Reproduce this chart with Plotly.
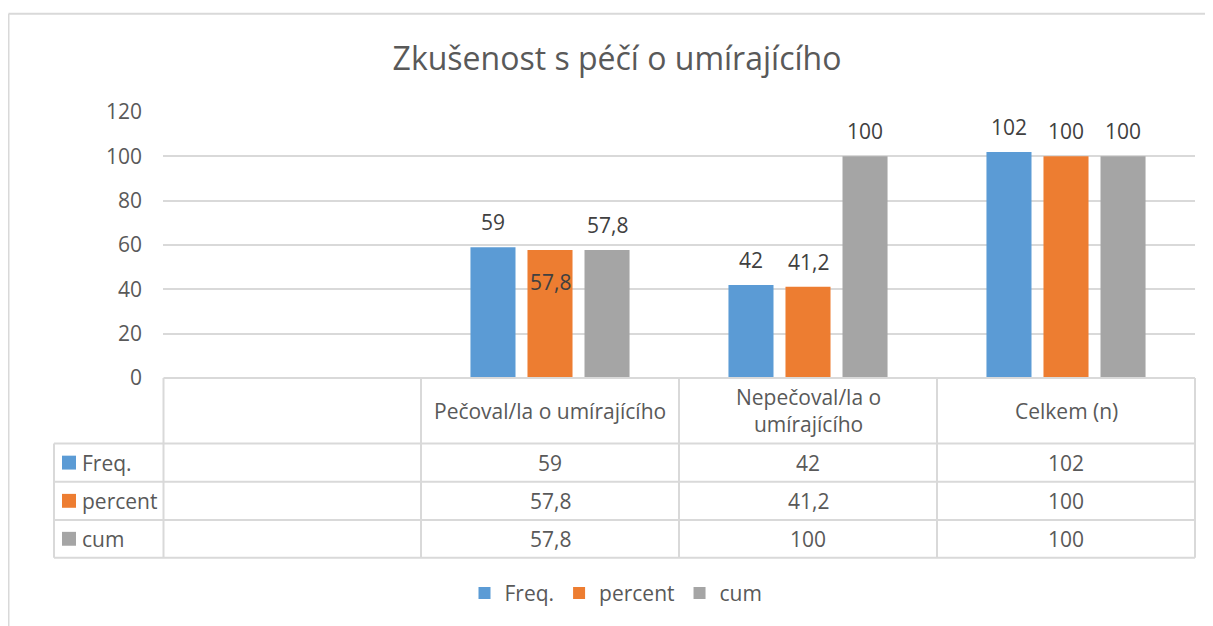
import plotly.graph_objects as go

# ---------------- data ----------------
title_text = "Zkušenost s péčí o umírajícího"
categories = ["", "Pečoval/la o umírajícího", "Nepečoval/la o<br>umírajícího", "Celkem (n)"]
series_names = ["Freq.", "percent", "cum"]
freq = [None, 59, 42, 102]
percent = [None, 57.8, 41.2, 100]
cum = [None, 57.8, 100, 100]
y_ticks = [0, 20, 40, 60, 80, 100, 120]

# ---------------- style ----------------
colors = ["#5B9BD5", "#ED7D31", "#A5A5A5"]
FONT = "'Open Sans', 'Noto Sans', sans-serif"
FS = 21
TXT = "#595959"
LBL = "#404040"
GRID = "#D9D9D9"
OFF = 8  # browser body margin
W, H = 1213 - OFF, 626 - OFF
PL, PR, PT, PB = 163, 1195, 112, 380  # plot area in page pixels
label_pos = [["", "out", "out", "out"],
             ["", "in", "out", "out"],
             ["", "out", "out", "out"]]
slot = 57  # pixel distance between bars of a group


def px_x(p):
    return (p - PL) / (PR - PL)


def px_y(p):
    return (PB - p) / (PB - PT)


def fmt(v):
    if v is None:
        return ""
    return ("%g" % v).replace(".", ",")


series_values = [freq, percent, cum]
xs = list(range(len(categories)))

fig = go.Figure()
for name, vals, col in zip(series_names, series_values, colors):
    fig.add_trace(go.Bar(
        x=xs, y=vals, name=name, marker=dict(color=col, line=dict(width=0)),
        hoverinfo="skip",
    ))

annotations = []
for s, vals in enumerate(series_values):
    for i, v in enumerate(vals):
        if v is None:
            continue
        pos = label_pos[s][i]
        annotations.append(dict(
            x=xs[i], y=v, xref="x", yref="y", text=fmt(v), showarrow=False,
            xshift=(s - 1) * slot, yshift=25 if pos == "out" else -32,
            yanchor="middle", xanchor="center",
            font=dict(family=FONT, size=FS, color=LBL),
        ))

shapes = []
line_style = dict(color=GRID, width=2)
shapes.append(dict(type="line", xref="paper", yref="paper",
                   x0=px_x(8.5), x1=px_x(1300), y0=px_y(13), y1=px_y(13), line=line_style))
shapes.append(dict(type="line", xref="paper", yref="paper",
                   x0=px_x(8.5), x1=px_x(8.5), y0=px_y(13), y1=px_y(700), line=line_style))

col_edges = [163.5, 421, 679, 937, 1195]
row_edges = [380, 446, 484.5, 523, 561]
left_edge = 54
shapes.append(dict(type="line", xref="paper", yref="paper",
                   x0=px_x(col_edges[0]), x1=px_x(col_edges[-1]),
                   y0=px_y(row_edges[0]), y1=px_y(row_edges[0]), line=line_style))
for ry in row_edges[1:]:
    shapes.append(dict(type="line", xref="paper", yref="paper",
                       x0=px_x(left_edge), x1=px_x(col_edges[-1]),
                       y0=px_y(ry), y1=px_y(ry), line=line_style))
for cx in col_edges:
    shapes.append(dict(type="line", xref="paper", yref="paper",
                       x0=px_x(cx), x1=px_x(cx),
                       y0=px_y(row_edges[0]), y1=px_y(row_edges[-1]), line=line_style))
shapes.append(dict(type="line", xref="paper", yref="paper",
                   x0=px_x(left_edge), x1=px_x(left_edge),
                   y0=px_y(row_edges[1]), y1=px_y(row_edges[-1]), line=line_style))

for i, c in enumerate(categories):
    if not c:
        continue
    annotations.append(dict(
        x=(col_edges[i] + col_edges[i + 1]) / 2, y=(row_edges[0] + row_edges[1]) / 2,
        text=c, showarrow=False, xanchor="center", yanchor="middle",
        font=dict(family=FONT, size=FS, color=TXT),
    ))
for s, (name, vals, col) in enumerate(zip(series_names, series_values, colors)):
    cy = (row_edges[s + 1] + row_edges[s + 2]) / 2
    shapes.append(dict(type="rect", xref="paper", yref="paper",
                       x0=px_x(62), x1=px_x(76), y0=px_y(cy - 7), y1=px_y(cy + 7),
                       fillcolor=col, line=dict(width=0)))
    annotations.append(dict(
        x=80, y=cy, text=name, showarrow=False, xanchor="left", yanchor="middle",
        font=dict(family=FONT, size=FS, color=TXT),
    ))
    for i, v in enumerate(vals):
        if v is None:
            continue
        annotations.append(dict(
            x=(col_edges[i] + col_edges[i + 1]) / 2, y=cy, text=fmt(v),
            showarrow=False, xanchor="center", yanchor="middle",
            font=dict(family=FONT, size=FS, color=TXT),
        ))

for a in annotations:
    if a.get("xref") != "x":
        a["xref"] = "paper"
        a["yref"] = "paper"
        a["x"] = px_x(a["x"])
        a["y"] = px_y(a["y"])

fig.update_layout(
    width=W, height=H,
    margin=dict(l=PL - OFF, r=W - (PR - OFF), t=PT - OFF, b=H - (PB - OFF)),
    paper_bgcolor="white", plot_bgcolor="white",
    barmode="group", bargap=0.337, bargroupgap=0.21,
    title=dict(text=title_text, x=px_x(617), xref="paper", xanchor="center",
               y=1 - (59 - OFF) / H, yanchor="middle",
               font=dict(family=FONT, size=32, color=TXT)),
    xaxis=dict(range=[-0.5, len(categories) - 0.5], showticklabels=False,
               showgrid=False, zeroline=False, showline=False, fixedrange=True),
    yaxis=dict(range=[0, 120], tickvals=y_ticks, showgrid=True, gridcolor=GRID,
               gridwidth=1.5, zeroline=False, showline=False,
               tickfont=dict(family=FONT, size=FS, color=TXT),
               ticklabelstandoff=20, fixedrange=True),
    showlegend=True,
    legend=dict(orientation="h", x=px_x(616), xanchor="center", y=px_y(597),
                yanchor="middle", font=dict(family=FONT, size=FS, color=TXT),
                itemwidth=30, tracegroupgap=0),
    annotations=annotations, shapes=shapes,
)

fig.write_html("out.html")
